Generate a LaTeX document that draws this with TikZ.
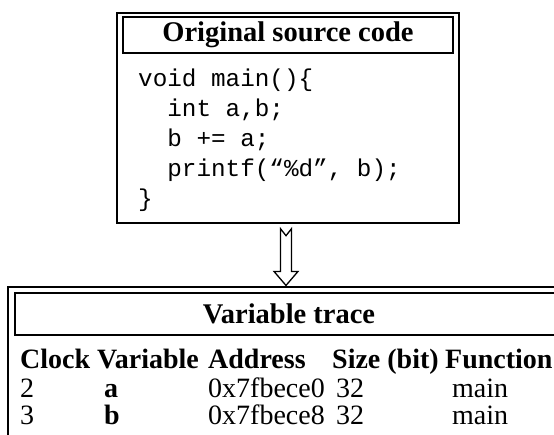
\documentclass[tikz,border=0pt]{standalone}
\usepackage{fontspec}
\setmainfont{Liberation Serif}
\setmonofont{Liberation Mono}
\usetikzlibrary{calc}
\tikzstyle{frame}=[draw, line width=1.4pt, inner sep=0pt]
\tikzstyle{head}=[draw, line width=2.2pt, inner sep=0pt, font=\fontsize{28.5}{34}\selectfont\bfseries]
\tikzstyle{code}=[anchor=base west, inner sep=0pt, font=\fontsize{24.3}{30}\selectfont\ttfamily]
\tikzstyle{col}=[anchor=base west, inner sep=0pt, font=\fontsize{28}{32}\selectfont\bfseries]
\tikzstyle{cell}=[anchor=base west, inner sep=0pt, font=\fontsize{28}{32}\selectfont]
\tikzstyle{hollow}=[draw, line width=1.3pt, line join=miter, fill=white]

\begin{document}
\begin{tikzpicture}[x=1pt, y=-1pt]
	\clip (0,0) rectangle (554,435);
	% source box
	\draw (288,118) node[frame, minimum width=342pt, minimum height=210pt] (src) {};
	\draw (288,35) node[head, minimum width=330pt, minimum height=36pt] (srcTitle) {Original source code};
	\draw (138,87) node[code] (l1) {void main()\{};
	\draw (167.2,117) node[code] (l2) {int a,b;};
	\draw (167.2,147) node[code] (l3) {b += a;};
	\draw (167.2,177) node[code] (l4) {printf(“\%d”, b);};
	\draw (138,207) node[code] (l5) {\}};
	% trace table
	\draw (289,368.5) node[frame, line width=1.1pt, minimum width=562pt, minimum height=163pt] (trace) {};
	\draw (289,314) node[head, minimum width=548pt, minimum height=42pt] (traceTitle) {Variable trace};
	\draw (20,368) node[col] (hClock) {Clock};
	\draw (97,368) node[col] (hVar) {Variable};
	\draw (208,368) node[col] (hAddr) {Address};
	\draw (332,368) node[col] (hSize) {Size (bit)};
	\draw (445,368) node[col] (hFunc) {Function};
	\draw (20,397) node[cell] (c1) {2};
	\draw (104,397) node[col] (v1) {a};
	\draw (208,397) node[cell] (a1) {0x7fbece0};
	\draw (336,397) node[cell] (s1) {32};
	\draw (452,397) node[cell] (f1) {main};
	\draw (20,424) node[cell] (c2) {3};
	\draw (104,424) node[col] (v2) {b};
	\draw (208,424) node[cell] (a2) {0x7fbece8};
	\draw (336,424) node[cell] (s2) {32};
	\draw (452,424) node[cell] (f2) {main};
	% arrow
	\coordinate (top) at ([xshift=-2pt,yshift=-5pt]src.south);
	\coordinate (tip) at ([yshift=1pt]trace.north -| top);
	\draw[hollow] ($(top)+(-5.5,0)$) -- ($(top)+(0,7)$) -- ($(top)+(5.5,0)$) -- ($(tip)+(5.5,-14)$) -- ($(tip)+(12,-14)$) -- (tip) -- ($(tip)+(-12,-14)$) -- ($(tip)+(-5.5,-14)$) -- cycle;
\end{tikzpicture}
\end{document}
